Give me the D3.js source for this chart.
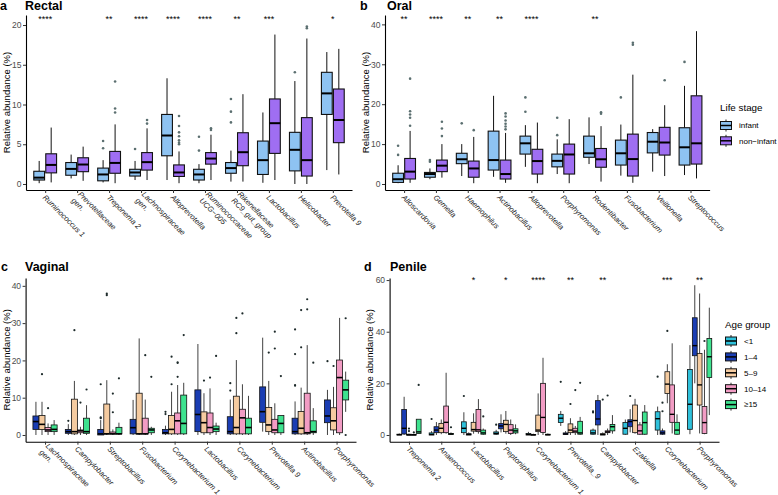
<!DOCTYPE html>
<html><head><meta charset="utf-8">
<script src="https://cdn.jsdelivr.net/npm/d3@7"></script>
<style>
body{margin:0;background:#fff;}
text{font-family:"Liberation Sans",Arial,Helvetica,sans-serif;}
</style></head>
<body><svg id="chart" width="778" height="495"></svg>
<script>
// ---------- DATA ----------
// stats: [lower whisker, Q1, median, Q3, upper whisker]
const rectalTaxa = ["Ruminococcus 1","Prevotellaceae\ngen.","Treponema 2","Lachnospiraceae\ngen.","Alloprevotella","Ruminococcaceae\nUCG\u2212005","Rikenellaceae\nRC9_gut_group","Lactobacillus","Helicobacter","Prevotella 9"];
const rectalInfant = [[0.1,0.5,0.8,1.6,2.9],[0.7,1.1,1.9,2.7,3.7],[0.2,0.4,1.2,2.0,3.0],[0.5,1.0,1.45,1.85,2.9],[0.5,3.55,6.1,8.75,13.3],[0.1,0.5,1.2,1.85,2.5],[0.3,1.35,2.0,2.7,4.2],[0.15,1.2,3.0,5.4,9.0],[0,1.65,4.3,6.5,12.95],[1.75,8.75,11.4,14.05,16.6]];
const rectalInfantOut = [[],[],[4.5,5.4],[4.4],[],[4.2,5.95],[7.75,9.1,10.7],[],[14.05],[]];
const rectalNonInfant = [[0.2,1.4,2.4,3.8,7.1],[0.4,1.55,2.45,3.3,4.7],[0.1,1.35,2.65,4.1,7.5],[0.5,1.75,2.75,3.95,7.0],[0.1,0.95,1.45,2.4,4.1],[0.5,2.5,3.2,3.95,6.2],[0.3,2.3,4.0,6.45,11.3],[0.5,3.85,7.65,10.7,18.8],[0,1.0,3.0,8.35,18.3],[1.2,5.2,8.05,11.95,17.0]];
const rectalNonInfantOut = [[],[],[9.0,9.5,12.9],[7.6,8.05],[5.0,5.2,5.5,6.0,6.5,7.3,8.55],[6.8,7.0],[],[],[19.6,19.8],[]];
const rectalSig = ["****","","**","****","****","****","**","***","","*"];
const rectalTicks = [0,5,10,15,20];

const oralTaxa = ["Alloscardovia","Gemella","Haemophilus","Actinobacillus","Alloprevotella","Porphyromonas","Rodentibacter","Fusobacterium","Veillonella","Streptococcus"];
const oralInfant = [[0.2,0.4,1.2,2.7,4.7],[1.2,1.7,2.5,2.9,3.9],[2.0,5.1,6.2,7.7,10],[1.8,3.5,6.0,13.25,22.1],[4.3,7.5,10.2,12.0,14.75],[2.5,4.3,5.8,7.5,11.2],[5.0,6.7,7.7,12.0,16.7],[2.1,4.75,7.7,11.0,14.9],[3.1,7.8,10.6,12.9,13.75],[2.25,4.75,9.2,14.1,24.6]];
const oralInfantOut = [[7.3,9.6],[5.6,6.0],[15.2],[],[18.1,21.7],[12.25,16.6],[],[21.7],[],[30.6]];
const oralNonInfant = [[0.3,1.25,3.1,6.4,13.3],[1.6,3.1,4.6,6.0,10],[0.2,1.7,3.9,5.75,11.8],[0.3,1.25,2.5,6.0,12.8],[0.2,2.5,5.75,8.7,15.4],[0.2,2.5,7.4,10,16.25],[0.6,4.2,6.2,8.9,14.5],[0.3,2.0,6.25,12.5,27.4],[2.0,7.25,10.4,14.2,19.75],[1.4,5.0,10.2,22.1,38.3]];
const oralNonInfantOut = [[14.6,16.6,17.4,18.25,26.4],[12,13.9,15.6],[13.5],[13.7,14.4,15.1,15.9,16.9,17.7],[],[],[17.6,18.0],[34.9,35.4],[26],[]];
const oralSig = ["**","****","**","**","****","","**","","",""];
const oralTicks = [0,10,20,30,40];

const lifeStages = ["infant","non\u2212infant"];
const ageGroups = ["<1","1\u20134","5\u20139","10\u201314","\u226515"];

const vaginalTaxa = ["Lachnospiraceae\ngen.","Campylobacter","Streptobacillus","Fusobacterium","Corynebacterium 1","Lactobacillus","Corynebacterium","Prevotella 9","Actinobacillus","Porphyromonas"];
const vag1to4 = [[0,1.5,3.6,5.1,8.9],[0,0.45,0.9,1.5,2.9],[0,0,0.3,1.5,4.0],[0,0.3,1.96,4.2,9.4],[0,0.3,0.6,1.5,2.5],[0,0.9,5.5,12.1,24.4],[0,0.3,0.9,4.9,9.5],[0.9,3.4,6.25,12.9,26.1],[0,0.3,0.9,4.5,9],[0,3.3,5.1,9.4,12.1]];
const vag1to4Out = [[],[3.8],[4.5,4.7,13.6],[],[5.6,6.2],[],[11.9,13.9],[],[13.2,13.4,21.7,28.3],[19.8]];
const vag5to9 = [[0,1.5,2.85,5.2,8.9],[0,0.3,0.9,9.6,14.5],[0,0.3,0.3,8.3,14.7],[0,0.3,0.3,11.2,25.9],[0,0.3,1.5,5.2,11.6],[0,0.6,3.3,6.2,11.2],[0,0.3,2.0,10.4,20.1],[0,0.9,2.7,7.4,14.5],[0,0.3,1.8,6.3,12.7],[0,1.35,3.8,7.3,12.9]];
const vag5to9Out = [[16.3],[28.1],[37.5,37.9],[],[13.6,21.0],[14.6],[27.3,31.4],[22.1],[23.5,33.5],[18.5]];
const vag10to14 = [[0,0.9,1.35,2.0,3.1],[0,0.6,1.1,1.35,2.2],[0,0.3,0.3,0.8,1.5],[0,0.3,0.3,4.5,9.5],[0,0.3,3.8,5.9,13.4],[0,0.6,2.0,5.9,12.5],[0,0.3,4.6,6.9,13.6],[0,0.6,1.35,4.2,8.5],[0,0.3,0.6,11.2,24.1],[0,0.6,15.4,20.1,31.4]];
const vag10to14Out = [[7.2],[8.7],[6.1,11.1],[21.4],[15.6,19.3,19.5],[15.4],[32.6],[23.2,27.7],[33.7,36.4],[]];
const vag15plus = [[0,0.9,1.5,2.7,4.0],[0,0.45,0.9,4.5,8.0],[0,0.3,0.3,2.05,3.3],[0,0.6,1.35,1.8,2.2],[0,0.3,3.1,10.7,14.0],[0,0.9,1.6,2.4,3.3],[0,0.3,2.0,4.5,10.5],[0,0.6,3.1,5.2,5.2],[0,0.6,0.9,3.8,7.2],[6.2,9.4,12.1,14.7,17.0]];
const vag15plusOut = [[],[12.2],[15.2],[15.6],[26.8],[21.2],[],[15.8],[19.4],[0,31.3]];
const vaginalTicks = [0,10,20,30,40];

const penileTaxa = ["Treponema 2","Anaerococcus","Lactobacillus","Peptoniphilus","Corynebacterium 1","Prevotella_9","Campylobacter","Ezakiella","Corynebacterium","Porphyromonas"];
const penLt1 = [[0,0,0.1,0.3,0.6],[0,0,0.2,0.8,1.5],[0,0.9,2.6,5.1,8.8],[0,0.3,0.6,1.2,2],[0,0,0.2,0.6,1.2],[3.5,4.8,6.5,8.0,9.3],[0,0.3,0.8,1.9,2.5],[0,0.3,2.6,4.8,6],[0,1.9,6.3,9.0,11],[0.3,2.2,11.9,25.4,34.8]];
const penLt1Out = [[],[6.2],[15.1],[4],[],[20.6],[8.7,9.2],[],[22.6],[]];
const pen1to4 = [[0,0.4,2.6,9.9,14.8],[0,0.9,1.9,3.2,5],[0,0,0.2,0.5,1],[1,2.4,3.5,4.4,8],[0,0,0,0.2,0.5],[0,0.2,0.4,0.8,1.5],[0,3.9,6.2,13.3,15.5],[1,3.2,5.2,5.9,10],[0,0.3,0.8,1.6,2.5],[20,30.7,34.6,45.4,58]];
const pen1to4Out = [[],[],[],[],[],[],[],[15.1],[9.2,12.5],[]];
const pen5to9 = [[0,0,0,0.3,0.5],[0.3,0.9,2.6,4.5,6],[0.5,1.5,2.1,4.9,8.4],[0.5,1.3,4.1,5.7,9.3],[0,1.3,1.9,7.7,16.1],[0,0.9,1.9,4.3,6.5],[0,0,0.2,0.5,1],[0.5,0.9,5.6,11.6,14],[12.3,16.1,19.7,24.5,27.4],[0.6,11.6,19.4,31.6,54.8]];
const pen5to9Out = [[1.5,2.5],[],[],[],[],[12],[13.7],[],[40.3],[]];
const pen10to14 = [[0,0,0,0.2,0.4],[0.5,0.9,4.9,11.2,24.1],[0.5,1.3,2.0,9.9,13.9],[0,0.6,1.9,4.0,6],[0,1.0,6.8,20,29.9],[0,0.9,1.5,2.6,3.5],[0,0.9,1.2,1.6,2.5],[0,0.3,1.6,3.9,5],[0.6,4.9,8.0,19.4,35.5],[0.3,0.6,4.8,11,33]];
const pen10to14Out = [[1],[],[],[],[],[17.4],[15.3],[],[],[36.4]];
const pen15plus = [[0.5,0.6,1.2,6.1,6.1],[0,0.2,0.4,0.6,1],[0,0.3,0.8,1.9,2.5],[0.3,0.8,1.6,2.4,4.1],[0,0,0.1,0.3,0.6],[0,0.3,0.8,5.3,7],[0.5,1.6,3.2,4.1,7.7],[0,0.3,4.8,8.9,11.6],[0,0.3,1.9,4.9,8],[7.7,22.3,30.3,37.4,49.3]];
const pen15plusOut = [[19.4],[3],[7.2],[],[],[20.2],[],[],[],[]];
const penileSig = ["","","*","*","****","**","**","","***","**"];
const penileTicks = [0,20,40,60];

// ---------- STYLE ----------
const lifeColors = ["#8ec3f2","#9f6ef2"];
const ageColors = ["#2fc1db","#1a3db3","#f5cba0","#f29cc4","#3ee38f"];

const svg = d3.select("#chart");

function drawPanel(cfg){
  const g = svg.append("g");
  const x = d3.scalePoint().domain(cfg.taxa).range([cfg.left, cfg.right]).padding(0.6);
  const y = d3.scaleLinear().domain([cfg.vmin, cfg.vmax]).range([cfg.bottom, cfg.top]);
  const ya = g.append("g").attr("transform",`translate(${cfg.left},0)`)
    .call(d3.axisLeft(y).tickValues(cfg.ticks).tickSize(3).tickSizeOuter(0));
  ya.select(".domain").attr("stroke","#000").attr("stroke-width",1.1);
  ya.selectAll(".tick line").attr("stroke","#333");
  ya.selectAll(".tick text").attr("fill","#4d4d4d").attr("font-size",8.5).attr("x",-4.5);
  const xa = g.append("g").attr("transform",`translate(0,${cfg.bottom})`)
    .call(d3.axisBottom(x).tickSize(3).tickSizeOuter(0).tickFormat(""));
  xa.select(".domain").attr("stroke","#000").attr("stroke-width",1.1);
  xa.selectAll(".tick line").attr("stroke","#333");
  cfg.taxa.forEach(t=>{
    const lines = t.split("\n");
    const tx = g.append("text")
      .attr("transform",`translate(${x(t)-1},${cfg.bottom+6}) rotate(45)`)
      .attr("font-size",7.6).attr("font-style","italic").attr("fill","#222");
    lines.forEach((ln,k)=>{
      tx.append("tspan").attr("x",0)
        .attr("y",(k-(lines.length-1)/2)*9)
        .attr("dy","0.35em").text(ln);
    });
  });
  g.append("text").attr("transform",`translate(${cfg.titleX},${(cfg.top+cfg.bottom)/2}) rotate(-90)`)
    .attr("text-anchor","middle").attr("font-size",9.5).attr("fill","#000").text("Relative abundance (%)");
  g.append("text").attr("x",cfg.letterX).attr("y",cfg.titleY).attr("font-size",12.5).attr("font-weight","bold").text(cfg.letter);
  g.append("text").attr("x",cfg.nameX).attr("y",cfg.titleY).attr("font-size",12.5).attr("font-weight","bold").text(cfg.name);
  const n = cfg.groups.length;
  cfg.groups.forEach((grp,gi)=>{
    const off = (gi-(n-1)/2)*cfg.dodge;
    cfg.taxa.forEach((t,i)=>{
      const s = grp.stats[i];
      if(!s) return;
      const cx = x(t)+off, w = cfg.boxW;
      const bg = g.append("g");
      bg.append("line").attr("x1",cx).attr("x2",cx).attr("y1",y(s[0])).attr("y2",y(s[1])).attr("stroke","#111").attr("stroke-width",cfg.wsw);
      bg.append("line").attr("x1",cx).attr("x2",cx).attr("y1",y(s[3])).attr("y2",y(s[4])).attr("stroke","#111").attr("stroke-width",cfg.wsw);
      bg.append("rect").attr("x",cx-w/2).attr("width",w).attr("y",y(s[3])).attr("height",Math.max(0.01,y(s[1])-y(s[3])))
        .attr("fill",grp.color).attr("stroke","#111").attr("stroke-width",cfg.bsw);
      bg.append("line").attr("x1",cx-w/2).attr("x2",cx+w/2).attr("y1",y(s[2])).attr("y2",y(s[2])).attr("stroke","#000").attr("stroke-width",cfg.msw);
      (grp.out[i]||[]).forEach(v=>{
        bg.append("circle").attr("cx",cx).attr("cy",y(v)).attr("r",cfg.pr).attr("fill",cfg.pc);
      });
    });
  });
  if(cfg.sig){
    cfg.taxa.forEach((t,i)=>{
      if(cfg.sig[i]) g.append("text").attr("x",x(t)).attr("y",cfg.sigY).attr("text-anchor","middle")
        .attr("font-size",9).attr("fill","#000").text(cfg.sig[i]);
    });
  }
}

drawPanel({taxa:rectalTaxa,name:"Rectal",left:26,right:352,top:15,bottom:190,vmin:-0.755,vmax:21.26,ticks:rectalTicks,
  titleX:10,letter:"a",letterX:0,nameX:25,titleY:10,
  groups:[{stats:rectalInfant,out:rectalInfantOut,color:lifeColors[0]},{stats:rectalNonInfant,out:rectalNonInfantOut,color:lifeColors[1]}],
  dodge:12,boxW:10.8,bsw:1.1,wsw:1,msw:2,pr:1.3,pc:"#5b6f70",sig:rectalSig,sigY:21.5});
drawPanel({taxa:oralTaxa,name:"Oral",left:385,right:709.6,top:15,bottom:190,vmin:-1.5,vmax:42.35,ticks:oralTicks,
  titleX:369,letter:"b",letterX:360,nameX:387,titleY:10,
  groups:[{stats:oralInfant,out:oralInfantOut,color:lifeColors[0]},{stats:oralNonInfant,out:oralNonInfantOut,color:lifeColors[1]}],
  dodge:12,boxW:10.8,bsw:1.1,wsw:1,msw:2,pr:1.3,pc:"#5b6f70",sig:oralSig,sigY:21.5});
drawPanel({taxa:vaginalTaxa,name:"Vaginal",left:25.6,right:356,top:278,bottom:441.7,vmin:-1.8,vmax:42.1,ticks:vaginalTicks,
  titleX:10,letter:"c",letterX:1,nameX:25,titleY:271,
  groups:[{stats:vag1to4,out:vag1to4Out,color:ageColors[1]},{stats:vag5to9,out:vag5to9Out,color:ageColors[2]},
          {stats:vag10to14,out:vag10to14Out,color:ageColors[3]},{stats:vag15plus,out:vag15plusOut,color:ageColors[4]}],
  dodge:6.07,boxW:6,bsw:0.8,wsw:0.8,msw:1.6,pr:1.1,pc:"#1d2a2a"});
drawPanel({taxa:penileTaxa,name:"Penile",left:389.6,right:719,top:278,bottom:441.7,vmin:-2.6,vmax:60.8,ticks:penileTicks,
  titleX:373,letter:"d",letterX:364,nameX:390,titleY:271,
  groups:[{stats:penLt1,out:penLt1Out,color:ageColors[0]},{stats:pen1to4,out:pen1to4Out,color:ageColors[1]},{stats:pen5to9,out:pen5to9Out,color:ageColors[2]},
          {stats:pen10to14,out:pen10to14Out,color:ageColors[3]},{stats:pen15plus,out:pen15plusOut,color:ageColors[4]}],
  dodge:4.85,boxW:4.8,bsw:0.8,wsw:0.8,msw:1.4,pr:1.1,pc:"#1d2a2a",sig:penileSig,sigY:283});

function legend(title, labels, colors, x0, y0, off, step){
  const g = svg.append("g");
  g.append("text").attr("x",x0-2).attr("y",y0).attr("font-size",9.8).text(title);
  labels.forEach((lb,i)=>{
    const cy = y0+off+i*step;
    g.append("line").attr("x1",x0+4).attr("x2",x0+4).attr("y1",cy-6).attr("y2",cy+6).attr("stroke","#111").attr("stroke-width",0.9);
    g.append("rect").attr("x",x0-1.5).attr("y",cy-4).attr("width",11).attr("height",8).attr("fill",colors[i]).attr("stroke","#111").attr("stroke-width",1);
    g.append("line").attr("x1",x0-1.5).attr("x2",x0+9.5).attr("y1",cy).attr("y2",cy).attr("stroke","#000").attr("stroke-width",1.5);
    g.append("text").attr("x",x0+17).attr("y",cy).attr("dy","0.35em").attr("font-size",8).text(lb);
  });
}
legend("Life stage", lifeStages, lifeColors, 722, 111, 14.5, 15.3);
legend("Age group", ageGroups, ageColors, 727, 328, 13, 15.9);
</script></body></html>
